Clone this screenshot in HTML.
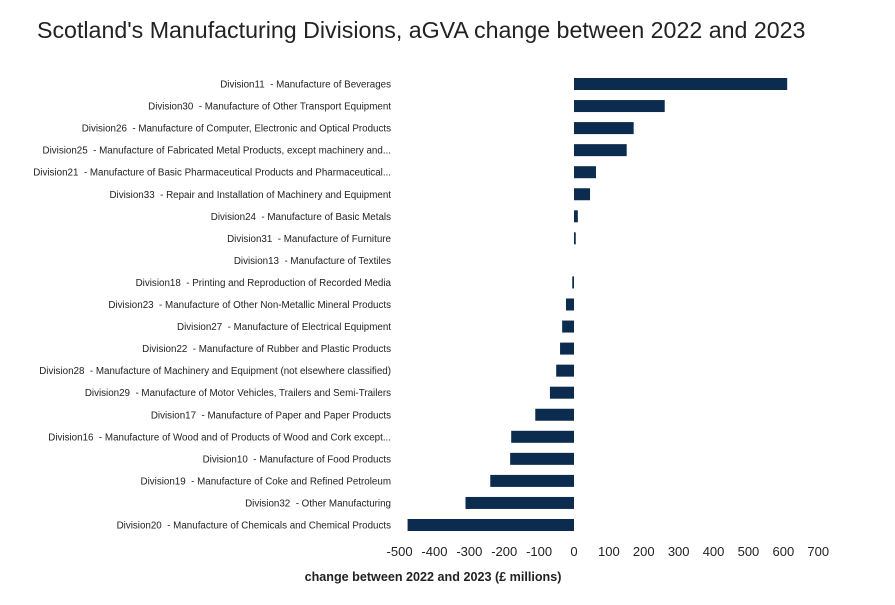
<!DOCTYPE html>
<html><head><meta charset="utf-8"><style>
body{margin:0;background:#fff;font-family:"Liberation Sans",sans-serif}
text{white-space:pre}
</style></head><body>
<svg id="chart" width="895" height="600">
<text x="37" y="38" font-size="23.2" fill="#222">Scotland's Manufacturing Divisions, aGVA change between 2022 and 2023</text>
<g id="rows"></g><g id="ticks"></g>
<text x="433" y="581" font-size="12.6" font-weight="bold" text-anchor="middle" fill="#222">change between 2022 and 2023 (£ millions)</text>
</svg>
<script>
const categories=["Division11  - Manufacture of Beverages","Division30  - Manufacture of Other Transport Equipment","Division26  - Manufacture of Computer, Electronic and Optical Products","Division25  - Manufacture of Fabricated Metal Products, except machinery and...","Division21  - Manufacture of Basic Pharmaceutical Products and Pharmaceutical...","Division33  - Repair and Installation of Machinery and Equipment","Division24  - Manufacture of Basic Metals","Division31  - Manufacture of Furniture","Division13  - Manufacture of Textiles","Division18  - Printing and Reproduction of Recorded Media","Division23  - Manufacture of Other Non-Metallic Mineral Products","Division27  - Manufacture of Electrical Equipment","Division22  - Manufacture of Rubber and Plastic Products","Division28  - Manufacture of Machinery and Equipment (not elsewhere classified)","Division29  - Manufacture of Motor Vehicles, Trailers and Semi-Trailers","Division17  - Manufacture of Paper and Paper Products","Division16  - Manufacture of Wood and of Products of Wood and Cork except...","Division10  - Manufacture of Food Products","Division19  - Manufacture of Coke and Refined Petroleum","Division32  - Other Manufacturing","Division20  - Manufacture of Chemicals and Chemical Products"];
const values=[611,260,171,151,63,46,11,5,0,-5,-23,-34,-40,-51,-69,-111,-180,-183,-240,-311,-477];
const ticks=[-500,-400,-300,-200,-100,0,100,200,300,400,500,600,700];
const NS="http://www.w3.org/2000/svg";
const x=v=>574+v*0.3489;
const y=i=>84+i*22.05;
const rows=document.getElementById('rows'),tg=document.getElementById('ticks');
categories.forEach((c,i)=>{
 const t=document.createElementNS(NS,'text');
 
 
 t.setAttribute('x',391);t.setAttribute('y',y(i)+3.5);t.setAttribute('font-size','9.8');t.setAttribute('text-anchor','end');t.setAttribute('fill','#222');
 t.textContent=c;rows.appendChild(t);
 const v=values[i];
 const r=document.createElementNS(NS,'rect');
 
 
 const x0=Math.min(x(0),x(v)),w=Math.max(Math.abs(x(v)-x(0)),v===0?0:1);
 r.setAttribute('x',x0);r.setAttribute('y',y(i)-6);r.setAttribute('width',w);r.setAttribute('height',12);r.setAttribute('fill','#0b2c4f');
 rows.appendChild(r);
});
ticks.forEach(v=>{
 const t=document.createElementNS(NS,'text');
 
 
 t.setAttribute('x',x(v));t.setAttribute('y',556);t.setAttribute('font-size','13');t.setAttribute('text-anchor','middle');t.setAttribute('fill','#222');
 t.textContent=v;tg.appendChild(t);
});
</script>
</body></html>
